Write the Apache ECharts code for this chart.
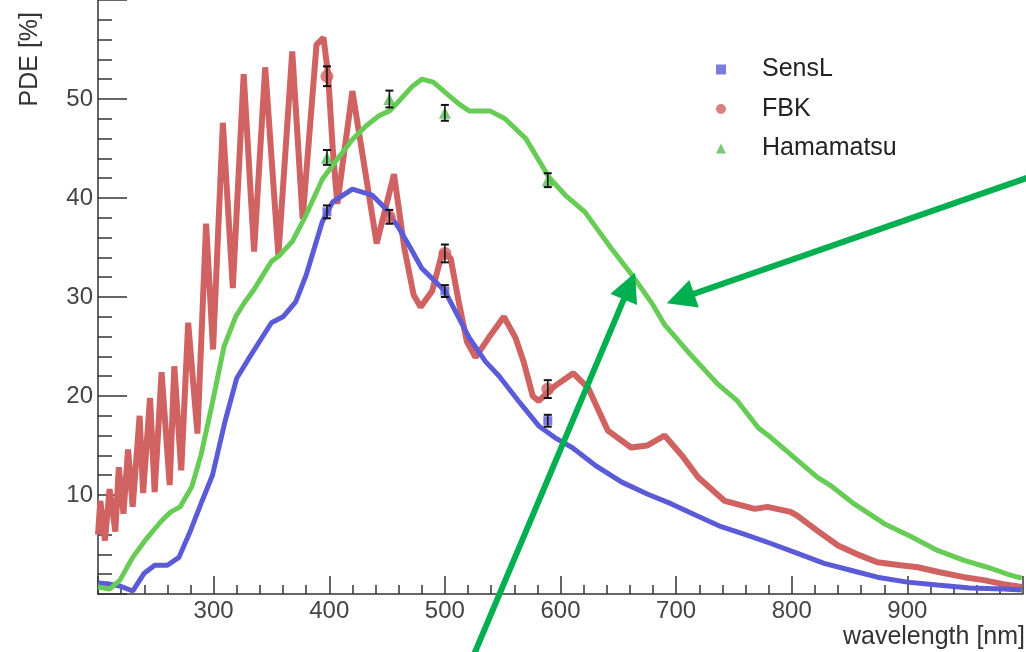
<!DOCTYPE html>
<html>
<head>
<meta charset="utf-8">
<script src="https://cdn.jsdelivr.net/npm/echarts@6/dist/echarts.min.js"></script>
<style>html,body{margin:0;padding:0;background:#fff}#c{width:1026px;height:652px}</style>
</head>
<body>
<div id="c"></div>
<script>
// ---- data ----
const sensLWl  = [200,210,219,230,240,249,260,270,280,290,299,310,320,331,350,360,371,380,394,403,420,437,449,460,470,480,500,521,535,547,565,581,595,610,630,653,675,696,718,739,760,782,805,828,851,874,900,926,954,983,999];
const sensLPde = [1.1,1.0,0.8,0.3,2.1,2.9,2.9,3.7,6.4,9.4,12.0,17.5,21.8,23.9,27.4,28.0,29.5,32.2,37.6,39.6,40.9,40.3,38.9,37.0,35.0,32.9,30.6,25.9,23.5,22.0,19.3,17.0,15.8,14.8,13.0,11.3,10.1,9.1,7.9,6.8,6.0,5.1,4.1,3.1,2.4,1.7,1.2,0.9,0.6,0.5,0.4];

const fbkWl  = [200,202,206,210,215,218,222,226,230,236,239,245,249,255,262,266,272,278,286,293.5,299.5,308,316.6,326,335,344.6,356,368,377,389,395,399,403,407,420,441,456,465,473,479,489,498,505,512,519,526.5,538,551,561,568,576,581,595,611,624,641,661,675,690,705,719,742,768,779,799,805,822,840,859,874,894,909,928,949,966,983,999];
const fbkPde = [6.0,9.4,5.4,10.6,6.3,12.8,8.1,14.6,8.8,18.0,10.2,19.8,10.3,22.4,11.0,23.0,12.5,27.4,16.2,37.4,24.7,47.6,30.9,52.5,34.6,53.2,34.2,54.8,37.9,55.5,56.2,52.5,45.0,39.4,50.8,35.4,42.4,34.9,30.2,29.0,30.6,34.6,33.9,29.5,25.5,23.9,25.9,28.0,25.9,23.5,20.0,19.5,21.0,22.3,20.8,16.5,14.8,15.0,16.0,14.0,11.8,9.4,8.6,8.8,8.3,7.9,6.4,4.9,3.9,3.2,2.9,2.7,2.2,1.7,1.4,1.0,0.7];

const hamWl  = [200,210,219,230,242,255,263,271,281,289,298,309,319,327,334,350,357,368,380,394,403,420,432,443,452,458,472,480,490,500,512,521,539,552,570,590,604,621,644,662,680,690,710,736,753,771,782,805,822,833,854,880,903,926,949,972,989,999];
const hamPde = [0.7,0.5,1.4,3.7,5.6,7.4,8.3,8.8,10.8,14.0,18.8,25.0,28.0,29.5,30.6,33.6,34.2,35.6,38.3,41.9,43.3,45.9,47.3,48.3,48.8,49.5,51.3,52.0,51.7,50.7,49.5,48.8,48.8,48.0,46.0,42.1,40.3,38.6,34.9,32.2,29.2,27.2,24.5,21.2,19.5,16.8,15.8,13.5,11.8,11.0,9.1,7.1,5.8,4.4,3.4,2.6,1.9,1.6];

// measured points with errors
const sensLPtWl = [398,500,589];
const sensLPt   = [38.6,30.6,17.5];
const sensLErr  = [0.65,0.6,0.6];
const fbkPtWl   = [398,452,500,589];
const fbkPt     = [52.3,38.1,34.4,20.7];
const fbkErr    = [1.0,0.7,0.9,0.9];
const hamPtWl   = [398,452,500,589];
const hamPt     = [44.1,50.0,48.6,41.8];
const hamErr    = [0.75,0.85,0.8,0.7];

const xTicks = [300,400,500,600,700,800,900];
const yTicks = [10,20,30,40,50];

const names = ['SensL','FBK','Hamamatsu'];
const BLUE = '#5b5bd8', RED = '#d06262', GREEN = '#66cc55', ARROW = '#00b050';
const FONT = 'Liberation Sans, Arial, sans-serif';

const zip = (a,b) => a.map((v,i)=>[v,b[i]]);
const zip3 = (a,b,c) => a.map((v,i)=>[v,b[i],c[i]]);

function renderErr(params, api){
  const x = api.value(0), y = api.value(1), e = api.value(2);
  const t = api.coord([x, y+e]), b = api.coord([x, y-e]);
  const hw = 4;
  const st = {stroke:'#111', lineWidth:1.5};
  return {type:'group', children:[
    {type:'line', shape:{x1:t[0],y1:t[1],x2:b[0],y2:b[1]}, style:st},
    {type:'line', shape:{x1:t[0]-hw,y1:t[1],x2:t[0]+hw,y2:t[1]}, style:{stroke:'#111',lineWidth:2}},
    {type:'line', shape:{x1:b[0]-hw,y1:b[1],x2:b[0]+hw,y2:b[1]}, style:{stroke:'#111',lineWidth:2}}
  ]};
}

function arrow(x0,y0,x1,y1){
  const dx = x1-x0, dy = y1-y0, len = Math.hypot(dx,dy);
  const ux = dx/len, uy = dy/len, L = 29, W = 14.5;
  const bx = x1-ux*L, by = y1-uy*L;
  return [
    {type:'line', z:100, shape:{x1:x0,y1:y0,x2:bx+ux*2,y2:by+uy*2}, style:{stroke:ARROW, lineWidth:6}},
    {type:'polygon', z:100, shape:{points:[[x1,y1],[bx-uy*W,by+ux*W],[bx+uy*W,by-ux*W]]}, style:{fill:ARROW}}
  ];
}

const tickStyle = {color:'#333', width:1.5};
const chart = echarts.init(document.getElementById('c'), null, {renderer:'canvas'});
chart.setOption({
  animation:false,
  backgroundColor:'#fff',
  grid:{left:98, right:0, top:-3, bottom:58},
  xAxis:{type:'value', min:200, max:1000, interval:100,
    axisLine:{lineStyle:tickStyle},
    axisTick:{inside:true, length:18, lineStyle:tickStyle},
    minorTick:{show:true, splitNumber:5, length:9, lineStyle:tickStyle},
    splitLine:{show:false},
    axisLabel:{margin:5, fontSize:24, color:'#444', fontFamily:FONT,
      formatter:v => xTicks.includes(v) ? String(v) : ''}
  },
  yAxis:{type:'value', min:0, max:60, interval:10,
    axisLine:{show:true, lineStyle:tickStyle},
    axisTick:{show:true, inside:true, length:29, lineStyle:tickStyle},
    minorTick:{show:true, splitNumber:5, length:14, lineStyle:tickStyle},
    splitLine:{show:false},
    axisLabel:{margin:5, fontSize:24, color:'#444', fontFamily:FONT,
      formatter:v => yTicks.includes(v) ? String(v) : ''}
  },
  legend:{orient:'vertical', left:711, top:52, itemWidth:10, itemHeight:10, itemGap:14.5,
    textStyle:{fontSize:25, lineHeight:24, color:'#222', fontFamily:FONT, padding:[0,0,0,31]},
    data:[{name:names[0], icon:'rect'},{name:names[1], icon:'circle'},{name:names[2], icon:'triangle'}]
  },
  graphic:[
    {type:'text', x:30, y:12, rotation:Math.PI/2,
      style:{text:'PDE [%]', fontSize:25, fill:'#333', fontFamily:FONT, align:'right', verticalAlign:'middle'}},
    {type:'text', x:1025, y:637,
      style:{text:'wavelength [nm]', fontSize:25, fill:'#333', fontFamily:FONT, align:'right', verticalAlign:'middle'}},
    ...arrow(1030,176.9,666.7,303.3),
    ...arrow(470,664,635,272.7)
  ],
  series:[
    {name:'FBK curve', type:'line', data:zip(fbkWl,fbkPde), showSymbol:false, lineStyle:{color:RED, width:6}, itemStyle:{color:RED}, z:2, silent:true},
    {name:'SensL curve', type:'line', data:zip(sensLWl,sensLPde), showSymbol:false, lineStyle:{color:BLUE, width:5}, itemStyle:{color:BLUE}, z:3, silent:true},
    {name:'Hamamatsu curve', type:'line', data:zip(hamWl,hamPde), showSymbol:false, lineStyle:{color:GREEN, width:5}, itemStyle:{color:GREEN}, z:4, silent:true},
    {name:names[0], type:'scatter', symbol:'rect', symbolSize:9, data:zip(sensLPtWl,sensLPt), itemStyle:{color:BLUE}, z:6},
    {name:names[1], type:'scatter', symbol:'circle', symbolSize:13, data:zip(fbkPtWl,fbkPt), itemStyle:{color:RED}, z:6},
    {name:names[2], type:'scatter', symbol:'triangle', symbolSize:12, data:zip(hamPtWl,hamPt), itemStyle:{color:'#55bb55'}, z:6},
    {name:'SensL err', type:'custom', renderItem:renderErr, data:zip3(sensLPtWl,sensLPt,sensLErr), encode:{x:0,y:1}, z:7},
    {name:'FBK err', type:'custom', renderItem:renderErr, data:zip3(fbkPtWl,fbkPt,fbkErr), encode:{x:0,y:1}, z:7},
    {name:'Hamamatsu err', type:'custom', renderItem:renderErr, data:zip3(hamPtWl,hamPt,hamErr), encode:{x:0,y:1}, z:7}
  ]
});
</script>
</body>
</html>
